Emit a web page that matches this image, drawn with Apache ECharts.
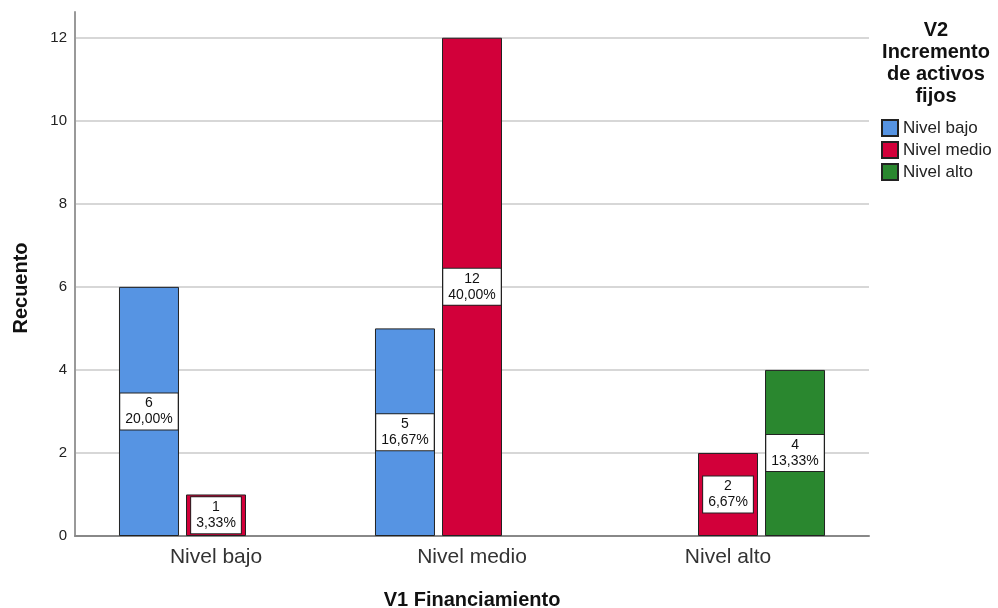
<!DOCTYPE html>
<html>
<head>
<meta charset="utf-8">
<script src="https://cdn.jsdelivr.net/npm/echarts@6/dist/echarts.min.js"></script>
<style>
  html, body { margin: 0; padding: 0; background: #fff; }
  #chart { width: 998px; height: 608px; }
</style>
</head>
<body>
<div id="chart"></div>
<script>
// V1 Financiamiento (x categories) vs V2 Incremento de activos fijos (clusters)
const categories = ['Nivel bajo', 'Nivel medio', 'Nivel alto'];
const seriesNames = ['Nivel bajo', 'Nivel medio', 'Nivel alto'];
const bajoCounts = [6, 5, null];
const medioCounts = [1, 12, 2];
const altoCounts = [null, null, 4];
const yTicks = [0, 2, 4, 6, 8, 10, 12];

const colors = ['#5694E3', '#D2003A', '#2A872F'];
const FONT = 'Arial, "Liberation Sans", sans-serif';

const allCounts = [bajoCounts, medioCounts, altoCounts];
const total = allCounts.flat().reduce((s, v) => s + (v || 0), 0);
const pct = v => (v / total * 100).toFixed(2).replace('.', ',') + '%';

const yMax = 12.62;
const yStep = yTicks[1] - yTicks[0];

const chart = echarts.init(document.getElementById('chart'), null, { renderer: 'canvas' });

const series = allCounts.map((data, i) => ({
  name: seriesNames[i],
  type: 'bar',
  xAxisIndex: 1,
  yAxisIndex: 1,
  data: data,
  barWidth: 60,
  barGap: '11.7%',
  itemStyle: { color: colors[i], borderColor: '#222', borderWidth: 1 },
  label: {
    show: true,
    position: 'inside',
    formatter: p => p.value + '\n' + pct(p.value),
    fontFamily: FONT,
    fontSize: 14,
    lineHeight: 16,
    color: '#111',
    align: 'center',
    backgroundColor: '#fff',
    borderColor: '#222',
    borderWidth: 1,
    padding: [2, 5, 2, 5]
  },
  emphasis: { disabled: true },
  animation: false
}));

chart.setOption({
  animation: false,
  grid: [
    { left: 75, right: 129, top: 12, bottom: 72, outerBoundsMode: 'none', containLabel: false },
    { left: 88, width: 768, top: 12, bottom: 72, outerBoundsMode: 'none', containLabel: false }
  ],
  xAxis: [
    {
      gridIndex: 0, type: 'value', min: 0, max: 1,
      axisLine: { show: true, lineStyle: { color: '#888', width: 2 } },
      axisTick: { show: false }, axisLabel: { show: false }, splitLine: { show: false }
    },
    {
      gridIndex: 1, type: 'category', data: categories,
      axisLine: { show: false }, axisTick: { show: false },
      axisLabel: { fontFamily: FONT, fontSize: 21, color: '#333', margin: 11 },
      name: 'V1 Financiamiento', nameLocation: 'middle', nameGap: 54,
      nameTextStyle: { fontFamily: FONT, fontSize: 20, fontWeight: 'bold', color: '#111' }
    }
  ],
  yAxis: [
    {
      gridIndex: 0, type: 'value', min: yTicks[0], max: yMax, interval: yStep,
      axisLine: { show: true, lineStyle: { color: '#999', width: 2 } },
      axisTick: { show: false },
      axisLabel: { fontFamily: FONT, fontSize: 15, color: '#222', margin: 8, showMaxLabel: false },
      splitLine: { show: true, showMinLine: false, showMaxLine: false, lineStyle: { color: '#cacaca', width: 1.5 } }
    },
    { gridIndex: 1, type: 'value', min: yTicks[0], max: yMax, show: false }
  ],
  legend: {
    orient: 'vertical',
    left: 881,
    top: 119,
    padding: 0,
    itemWidth: 16,
    itemHeight: 16,
    itemGap: 4,
    icon: 'rect',
    data: seriesNames,
    textStyle: { fontFamily: FONT, fontSize: 17, color: '#222', lineHeight: 16 },
    selectedMode: false
  },
  graphic: [
    {
      type: 'text', x: 936, y: 19,
      style: {
        text: 'V2\nIncremento\nde activos\nfijos',
        font: 'bold 20px ' + FONT, fill: '#111',
        align: 'center', verticalAlign: 'top', lineHeight: 22
      }
    },
    {
      type: 'text', x: 21, y: 288, rotation: Math.PI / 2,
      style: {
        text: 'Recuento',
        font: 'bold 20px ' + FONT, fill: '#111',
        align: 'center', verticalAlign: 'middle'
      }
    }
  ],
  series: series
});
</script>
</body>
</html>
